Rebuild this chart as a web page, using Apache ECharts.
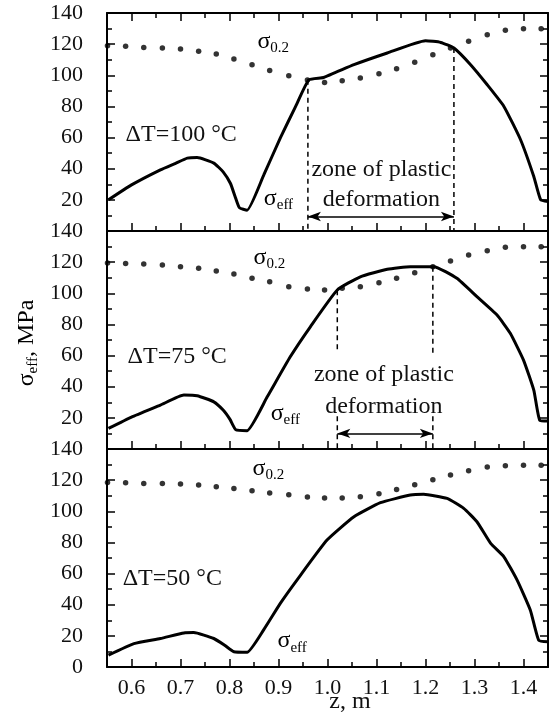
<!DOCTYPE html>
<html>
<head>
<meta charset="utf-8">
<script src="https://cdn.jsdelivr.net/npm/echarts@6/dist/echarts.min.js"></script>
<style>
  html, body { margin: 0; padding: 0; background: #fff; }
  #chart { width: 550px; height: 714px; }
</style>
</head>
<body>
<div id="chart"></div>
<script>
  // z positions of the sigma_0.2 dots (the same in all three panels)
  const dotZ = [0.551, 0.588, 0.625, 0.663, 0.700, 0.737, 0.773, 0.809, 0.846, 0.882, 0.921, 0.959,
    0.994, 1.030, 1.067, 1.105, 1.141, 1.178, 1.215, 1.251, 1.288, 1.326, 1.363, 1.400, 1.436];

  // sigma_0.2 values, MPa
  const yield100 = [119, 118.6, 117.9, 117.5, 116.9, 115.4, 113.6, 110.4, 106.8, 103.1, 99.7, 97,
    95.4, 96.5, 98.2, 101, 104.2, 108.3, 113.2, 117.5, 121.8, 126.1, 128.9, 129.9, 129.9];
  const yield75 = [119.5, 119.2, 118.8, 118.1, 117.1, 116, 114.3, 112.4, 109.6, 107.4, 104.2, 102.7,
    102.1, 103.2, 104.2, 106.8, 109.6, 113.2, 117.1, 120.7, 124.6, 127.3, 129.5, 129.9, 129.9];
  const yield50 = [118.5, 118.3, 117.9, 117.9, 117.5, 116.9, 115.8, 114.7, 113.2, 111.8, 110.6, 109.2,
    108.5, 108.6, 109.4, 111.3, 114, 117, 120.3, 123.3, 126.1, 128.4, 129.3, 129.5, 129.5];

  // sigma_eff curves [z, MPa]
  const eff100 = [[0.553, 20], [0.60, 29.6], [0.659, 39.3], [0.69, 43.5], [0.714, 46.8], [0.734, 47.2],
    [0.768, 43.6], [0.787, 38], [0.802, 30.5], [0.811, 22.5], [0.82, 15], [0.836, 13.4], [0.87, 36],
    [0.904, 60], [0.935, 80], [0.962, 97.1], [0.992, 98.6], [1.054, 106.8], [1.122, 114.3],
    [1.20, 122.2], [1.231, 121.1], [1.258, 117.5], [1.292, 106.8], [1.326, 93.9], [1.36, 80],
    [1.394, 58.6], [1.421, 35], [1.435, 20], [1.45, 19]];
  const eff75 = [[0.553, 13.2], [0.60, 20.5], [0.659, 28.2], [0.707, 34.6], [0.734, 34.2], [0.768, 30.3],
    [0.787, 25], [0.801, 19], [0.813, 12.3], [0.836, 11.8], [0.877, 33.5], [0.924, 59.2], [0.965, 78.5],
    [1.02, 102.1], [1.067, 110.6], [1.122, 115.4], [1.169, 117.1], [1.217, 117.1], [1.264, 109.6],
    [1.305, 97.8], [1.346, 86], [1.373, 74.3], [1.40, 57.1], [1.421, 37.8], [1.433, 18.5], [1.45, 18]];
  const eff50 = [[0.553, 7.6], [0.605, 15], [0.659, 18.3], [0.707, 21.9], [0.727, 22.1], [0.768, 18.3],
    [0.79, 14], [0.809, 9.8], [0.836, 9.5], [0.87, 24], [0.904, 41], [0.938, 56], [0.999, 81.5],
    [1.054, 96.5], [1.108, 105.5], [1.169, 110.4], [1.196, 110.9], [1.244, 108.3], [1.278, 101.9],
    [1.305, 93.3], [1.333, 79.4], [1.36, 70.8], [1.387, 55.8], [1.414, 36.5], [1.431, 17.2], [1.45, 16.2]];

  const panelTitles = ['ΔT=100 °C', 'ΔT=75 °C', 'ΔT=50 °C'];
  const xMajorTicks = [0.6, 0.7, 0.8, 0.9, 1.0, 1.1, 1.2, 1.3, 1.4];
  const xMinorTicks = [0.55, 0.65, 0.75, 0.85, 0.95, 1.05, 1.15, 1.25, 1.35, 1.45];

  // zone of plastic deformation: dashed edges [z, from, to] and arrow [z1, z2, level]
  const zoneDash100 = [[0.96, 97.1, 0], [1.258, 117.5, 0]];
  const zoneDash75 = [[1.02, 102, 63.5], [1.02, 21, 0], [1.215, 117, 61.4], [1.215, 21, 0]];
  const zoneArrow100 = [0.96, 1.258, 9.3];
  const zoneArrow75 = [1.02, 1.215, 10];

  const effs = [eff100, eff75, eff50];
  const yields = [yield100, yield75, yield50];
  const dashes = [zoneDash100, zoneDash75, []];
  const arrows = [zoneArrow100, zoneArrow75, null];

  // annotation anchors in data space
  const titlePos = [[0.588, 62], [0.592, 59], [0.582, 57]];
  const yieldLabelPos = [[0.857, 121], [0.849, 122], [0.847, 126.5]];
  const effLabelPos = [[0.87, 20], [0.884, 22], [0.898, 16]];
  const zoneTextPos = [[1.11, 39.3, 20], [1.115, 47.5, 27], null];

  const FONT = 'Liberation Serif, Times New Roman, serif';
  const black = '#000';

  const grids = [0, 1, 2].map(i => ({ left: 107, right: 2, top: 13 + i * 218, height: 218 }));

  const xAxis = [];
  const bottomIdx = [];
  function xPair(i, position, labels) {
    const base = {
      gridIndex: i, type: 'value', min: 0.55, max: 1.45, position: position,
      splitLine: { show: false }
    };
    xAxis.push(Object.assign({}, base, {
      axisLine: { show: true, lineStyle: { color: black, width: 2 } },
      axisTick: { inside: true, length: 8, customValues: xMajorTicks, lineStyle: { color: black, width: 1.5 } },
      axisLabel: {
        show: labels, customValues: xMajorTicks, margin: 10,
        formatter: v => v.toFixed(1), fontFamily: FONT, fontSize: 22, color: '#111'
      }
    }));
    xAxis.push(Object.assign({}, base, {
      axisLine: { show: false },
      axisTick: { inside: true, length: 5, customValues: xMinorTicks, lineStyle: { color: black, width: 1.5 } },
      axisLabel: { show: false }
    }));
  }
  for (let i = 0; i < 3; i++) {
    bottomIdx.push(xAxis.length);
    xPair(i, 'bottom', i === 2);
    if (i === 0) xPair(0, 'top', false);
  }

  const yAxis = [];
  for (let i = 0; i < 3; i++) {
    ['left', 'right'].forEach(pos => {
      yAxis.push({
        gridIndex: i, type: 'value', min: 0, max: 140, interval: 20, position: pos,
        splitLine: { show: false },
        axisLine: { show: true, lineStyle: { color: black, width: 2 } },
        axisTick: { inside: true, length: 8, lineStyle: { color: black, width: 1.5 } },
        minorTick: { show: true, splitNumber: 2, length: 5, lineStyle: { color: black, width: 1.5 } },
        axisLabel: {
          show: pos === 'left', margin: 24, fontFamily: FONT, fontSize: 22, color: '#111',
          formatter: v => (v === 0 && i < 2) ? '' : String(v)
        }
      });
    });
  }

  const series = [];
  for (let i = 0; i < 3; i++) {
    const ax = { xAxisIndex: bottomIdx[i], yAxisIndex: 2 * i };
    series.push(Object.assign({
      type: 'line', data: effs[i], showSymbol: false, smooth: 0.15,
      lineStyle: { color: black, width: 3 }
    }, ax));
    series.push(Object.assign({
      type: 'scatter', data: dotZ.map((z, k) => [z, yields[i][k]]), symbolSize: 5.5,
      itemStyle: { color: black }
    }, ax));
    dashes[i].forEach(d => {
      series.push(Object.assign({
        type: 'line', data: [[d[0], d[1]], [d[0], d[2]]], showSymbol: false,
        lineStyle: { color: black, width: 1.5, type: [5, 4] }
      }, ax));
    });
    if (arrows[i]) {
      const a = arrows[i];
      series.push(Object.assign({
        type: 'line', data: [], markLine: {
          silent: true, symbol: ['arrow', 'arrow'], symbolSize: [7, 13],
          label: { show: false },
          lineStyle: { color: black, width: 1.5, type: 'solid' },
          data: [[{ coord: [a[0], a[2]] }, { coord: [a[1], a[2]] }]]
        }
      }, ax));
    }
  }

  const chart = echarts.init(document.getElementById('chart'));
  chart.setOption({
    animation: false,
    backgroundColor: '#fff',
    grid: grids,
    xAxis: xAxis,
    yAxis: yAxis,
    series: series
  });

  const rich = {
    s: { fontFamily: FONT, fontSize: 24, color: '#111', lineHeight: 24, verticalAlign: 'top' },
    b: { fontFamily: FONT, fontSize: 15, color: '#111', lineHeight: 15, verticalAlign: 'top', padding: [11, 0, 0, 0] }
  };
  function toPx(i, z, v) {
    return chart.convertToPixel({ gridIndex: i }, [z, v]);
  }
  function plain(p, text, align) {
    return {
      type: 'text', x: p[0], y: p[1],
      style: { text: text, fontFamily: FONT, fontSize: 24, fill: '#111', align: align, verticalAlign: 'middle' }
    };
  }
  function sigma(p, sub) {
    return {
      type: 'text', x: p[0], y: p[1] - 13,
      style: { text: '{s|σ}{b|' + sub + '}', rich: rich, align: 'left', verticalAlign: 'top' }
    };
  }

  const graphic = [];
  for (let i = 0; i < 3; i++) {
    graphic.push(plain(toPx(i, titlePos[i][0], titlePos[i][1]), panelTitles[i], 'left'));
    graphic.push(sigma(toPx(i, yieldLabelPos[i][0], yieldLabelPos[i][1]), '0.2'));
    graphic.push(sigma(toPx(i, effLabelPos[i][0], effLabelPos[i][1]), 'eff'));
    const zt = zoneTextPos[i];
    if (zt) {
      graphic.push(plain(toPx(i, zt[0], zt[1]), 'zone of plastic', 'center'));
      graphic.push(plain(toPx(i, zt[0], zt[2]), 'deformation', 'center'));
    }
  }
  // axis names
  graphic.push(plain([350, 702], 'z, m', 'center'));
  graphic.push({
    type: 'text', x: 27, y: 343, rotation: Math.PI / 2,
    style: { text: '{s|σ}{b|eff}{s|, MPa}', rich: rich, align: 'center', verticalAlign: 'middle' }
  });
  chart.setOption({ graphic: graphic });
</script>
</body>
</html>
